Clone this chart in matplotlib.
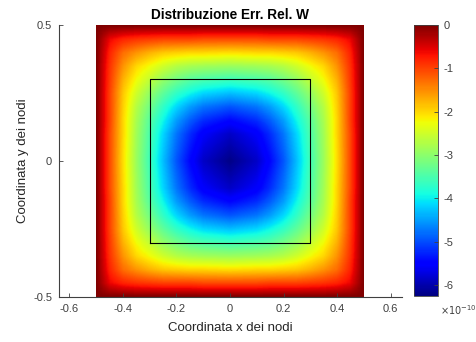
import numpy as np
import matplotlib
matplotlib.use("Agg")
import matplotlib.pyplot as plt

plt.rcParams['font.family'] = ['Liberation Sans', 'DejaVu Sans']

# grid nodes (one quadrant, from centre to edge)
nodes = [0.0, 0.1, 0.15, 0.2, 0.25, 0.3, 0.35, 0.4, 0.45, 0.5]
# magnitude of relative error (units of 1e-10) in the quadrant; rows = y nodes, cols = x nodes
quad = [
    [6.2, 5.85, 5.45, 4.95, 4.3, 3.6, 2.9, 2.05, 1.05, 0.0],
    [5.85, 5.55, 5.2, 4.75, 4.15, 3.5, 2.85, 2.0, 1.05, 0.0],
    [5.45, 5.2, 4.9, 4.5, 3.95, 3.4, 2.8, 2.0, 1.0, 0.0],
    [4.95, 4.75, 4.5, 4.15, 3.7, 3.2, 2.7, 1.95, 1.0, 0.0],
    [4.3, 4.15, 3.95, 3.7, 3.35, 2.95, 2.5, 1.9, 1.0, 0.0],
    [3.6, 3.5, 3.4, 3.2, 2.95, 2.6, 2.25, 1.75, 0.95, 0.0],
    [2.9, 2.85, 2.8, 2.7, 2.5, 2.25, 2.0, 1.55, 0.9, 0.0],
    [2.05, 2.0, 2.0, 1.95, 1.9, 1.75, 1.55, 1.3, 0.8, 0.0],
    [1.05, 1.05, 1.0, 1.0, 1.0, 0.95, 0.9, 0.8, 0.6, 0.0],
    [0.0, 0.0, 0.0, 0.0, 0.0, 0.0, 0.0, 0.0, 0.0, 0.0],
]
scale = 1e-10
cbar_ticks = [0, -1, -2, -3, -4, -5, -6]
cmin, cmax = -6.25, 0.0
xticks = [-0.6, -0.4, -0.2, 0, 0.2, 0.4, 0.6]
yticks = [-0.5, 0, 0.5]
square = (-0.3, 0.3)

# build full grid by mirroring the quadrant
n = np.array(nodes)
q = -np.array(quad) * scale
full_nodes = np.concatenate([-n[::-1], n[1:]])
half = np.concatenate([q[:, ::-1], q[:, 1:]], axis=1)
Z = np.concatenate([half[::-1, :], half[1:, :]], axis=0)

# bilinear refinement for display
fine = np.linspace(-0.5, 0.5, 241)
tmp = np.array([np.interp(fine, full_nodes, row) for row in Z])
Zf = np.array([np.interp(fine, full_nodes, tmp[:, j]) for j in range(tmp.shape[1])]).T

fig = plt.figure(figsize=(4.77, 3.42), dpi=100)
ax = fig.add_axes([59/477, 45/342, 343/477, 272/342])
gray = '#404040'
im = ax.imshow(Zf / scale, extent=[-0.5, 0.5, -0.5, 0.5], origin='lower',
               cmap='jet', vmin=cmin, vmax=cmax, interpolation='bilinear', aspect='auto')
ax.plot([square[0], square[1], square[1], square[0], square[0]],
        [square[0], square[0], square[1], square[1], square[0]], color='black', lw=0.8)
ax.set_xlim(-0.638, 0.642)
ax.set_ylim(-0.5, 0.5)
ax.set_xticks(xticks)
ax.set_xticklabels([f"{t:g}" for t in xticks])
ax.set_yticks(yticks)
ax.set_yticklabels([f"{t:g}" for t in yticks])
for s in ['top', 'right']:
    ax.spines[s].set_visible(False)
for s in ['left', 'bottom']:
    ax.spines[s].set_color(gray)
    ax.spines[s].set_linewidth(0.8)
ax.tick_params(direction='in', length=3, width=0.6, colors=gray, labelsize=8, pad=5)
ax.set_xlabel('Coordinata x dei nodi', fontsize=9.5, color='#262626', labelpad=6)
ax.set_ylabel('Coordinata y dei nodi', fontsize=9.5, color='#262626', labelpad=3)
ax.set_title('Distribuzione Err. Rel. W', fontsize=9.8, fontweight='bold', pad=4)

cax = fig.add_axes([414/477, 46/342, 24/477, 271/342])
cb = fig.colorbar(im, cax=cax, ticks=cbar_ticks)
cb.ax.set_yticklabels([f"{t:g}" for t in cbar_ticks])
cb.ax.tick_params(direction='in', length=3, width=0.6, colors=gray, labelsize=8, pad=4)
cb.outline.set_edgecolor(gray)
cb.outline.set_linewidth(0.6)
fig.text(440/477, 1 - 310/342, r'$\times10^{-10}$', fontsize=7, color=gray, va='center', ha='left')

fig.savefig('out.png', dpi=100)
